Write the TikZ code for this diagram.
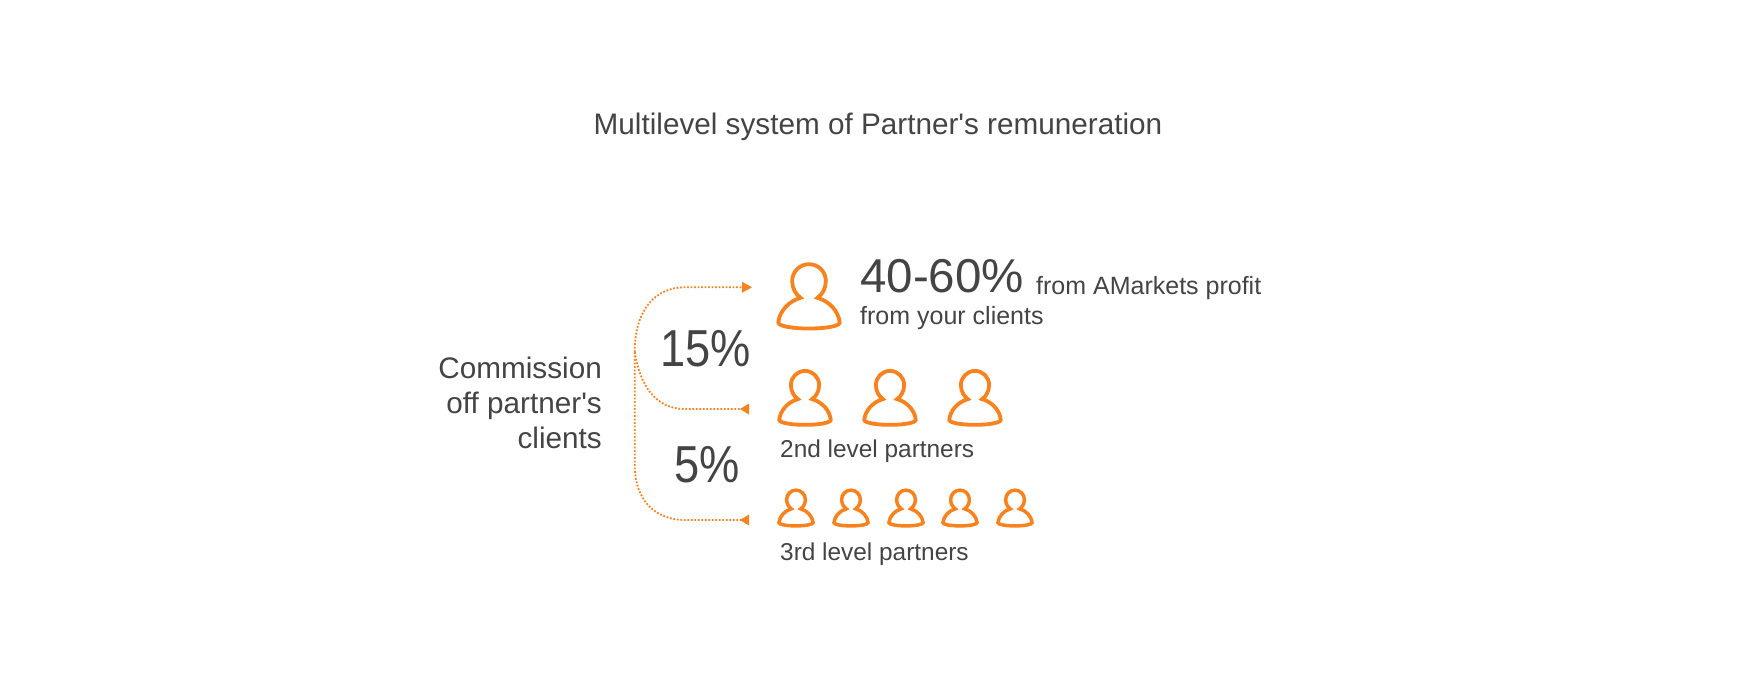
\documentclass[tikz,border=0pt]{standalone}
\usepackage{fontspec}
\setmainfont[Ligatures=TeXOff]{Liberation Sans}
\newfontface\narrowface[FakeStretch=0.87,Ligatures=TeXOff]{Liberation Sans}
\definecolor{ink}{HTML}{444444}
\definecolor{org}{HTML}{F7821E}
\tikzset{
 x=1pt,y=-1pt,
 txt/.style={inner sep=0pt,text=ink},
 curve/.style={org,line width=1.8pt,dash pattern=on 1.8pt off 1.7pt,line cap=butt},
 head/.style={fill=org,draw=none},
 pics/person/.style={code={
   \draw[org,line width=#1,line join=miter,x=\pscale pt,y=-\pscale pt]
    (-8.5,17) .. controls (-13.5,13.5) and (-17,7.5) .. (-17,0)
    .. controls (-17,-9.4) and (-9.4,-17) .. (0,-17)
    .. controls (9.4,-17) and (17,-9.4) .. (17,0)
    .. controls (17,7.5) and (13.5,13.5) .. (8.5,17)
    .. controls (21,20.5) and (30,31) .. (31,42)
    .. controls (31,45.5) and (17,48) .. (0,48)
    .. controls (-17,48) and (-31,45.5) .. (-31,42)
    .. controls (-30,31) and (-21,20.5) .. (-8.5,17) -- cycle;
 }},
}
\newcommand{\pscale}{1}
\begin{document}
\begin{tikzpicture}
\useasboundingbox (0,0) rectangle (1755,680);
\node[txt,anchor=base] (title) at (878,134) {\fontsize{29.7}{30}\selectfont Multilevel system of Partner's remuneration};
\node[txt,anchor=base east] (c1) at (602,378) {\fontsize{29.7}{30}\selectfont Commission};
\node[txt,anchor=base east] (c2) at (602,413) {\fontsize{29.7}{30}\selectfont off partner's};
\node[txt,anchor=base east] (c3) at (602,448) {\fontsize{29.7}{30}\selectfont clients};
\node[txt,anchor=base west] (p15) at (660,366) {\narrowface\fontsize{52}{52}\selectfont 15\%};
\node[txt,anchor=base west] (p5) at (674,482) {\narrowface\fontsize{52}{52}\selectfont 5\%};
\node[txt,anchor=base west] (p40) at (860,292) {\fontsize{47.5}{48}\selectfont 40-60\%};
\node[txt,anchor=base west] (t1) at (1036,294) {\fontsize{25}{25}\selectfont from AMarkets profit};
\node[txt,anchor=base west] (t2) at (860,324) {\fontsize{25}{25}\selectfont from your clients};
\node[txt,anchor=base west] (t3) at (780,457) {\fontsize{24.4}{25}\selectfont 2nd level partners};
\node[txt,anchor=base west] (t4) at (780,560) {\fontsize{24.4}{25}\selectfont 3rd level partners};

\renewcommand{\pscale}{0.99}
\pic at (809,281) {person=3.8pt};
\renewcommand{\pscale}{0.83}
\pic at (805,385) {person=3.8pt};
\pic at (890,385) {person=3.8pt};
\pic at (975,385) {person=3.8pt};
\renewcommand{\pscale}{0.55}
\foreach \x in {796,851,906,960,1015} \pic at (\x,499.5) {person=3.5pt};

\coordinate (o) at (634.7,352);
\coordinate (a1) at (742,287.3);
\coordinate (a2) at (749,409);
\coordinate (a3) at (749,520);
\draw[curve] (o) .. controls (634.7,310) and (655,287.3) .. (685,287.3) -- (a1);
\draw[curve] (o) .. controls (640,385) and (655,409) .. (685,409) -- (a2);
\draw[curve] (o) -- (634.7,465) .. controls (634.7,500) and (655,520) .. (685,520) -- (a3);
\fill[head] (a1) ++(0,-5.5) -- ++(10,5.5) -- ++(-10,5.5) -- cycle;
\fill[head] (a2) ++(0,-5.5) -- ++(-9,5.5) -- ++(9,5.5) -- cycle;
\fill[head] (a3) ++(0,-5.5) -- ++(-9,5.5) -- ++(9,5.5) -- cycle;
\end{tikzpicture}
\end{document}
